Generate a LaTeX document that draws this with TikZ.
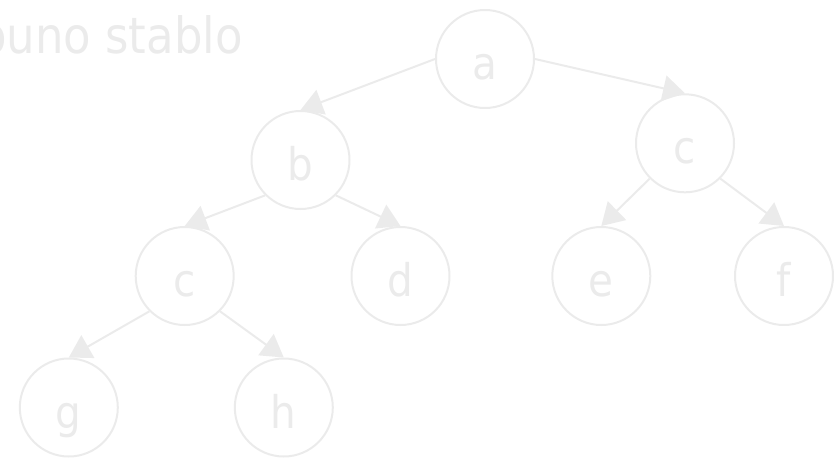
\documentclass[tikz,border=0pt]{standalone}
\usepackage{fontspec}
\setmainfont{DejaVu Sans Condensed}
\usetikzlibrary{arrows.meta}
\definecolor{pale}{RGB}{235,235,235}
\begin{document}
\begin{tikzpicture}[x=1pt,y=-1pt,
  treenode/.style={circle, draw=pale, line width=2pt, minimum size=98pt,
    inner sep=0pt, text=pale, font=\fontsize{45}{54}\selectfont,
    text height=41pt, text depth=0pt},
  edge/.style={draw=pale, line width=2pt, -{Triangle[length=22pt 0 0,width=26pt 0 0]}},
  titletext/.style={text=pale, font=\fontsize{50}{60}\selectfont, inner sep=0pt}
]
\useasboundingbox (0,0) rectangle (838,458);
\node[titletext, anchor=base east] (title) at (243,53) {puno stablo};

\node[treenode] (a)  at (485,59)      {a};
\node[treenode] (b)  at (300.5,160)   {b};
\node[treenode] (cr) at (685,143.3)   {c};
\node[treenode] (cl) at (184.7,276)   {c};
\node[treenode] (d)  at (400.5,276)   {d};
\node[treenode] (e)  at (601.3,276)   {e};
\node[treenode] (f)  at (784,276)     {f};
\node[treenode] (g)  at (68.8,407.5)  {g};
\node[treenode] (h)  at (283.8,407.5) {h};

\draw[edge] (a.west) -- (b.north);
\draw[edge] (a.east) -- (cr.north);
\draw[edge] (b.south west) -- (cl.north);
\draw[edge] (b.south east) -- (d.north);
\draw[edge] (cr.south west) -- (e.north);
\draw[edge] (cr.south east) -- (f.north);
\draw[edge] (cl.south west) -- (g.north);
\draw[edge] (cl.south east) -- (h.north);
\end{tikzpicture}
\end{document}
